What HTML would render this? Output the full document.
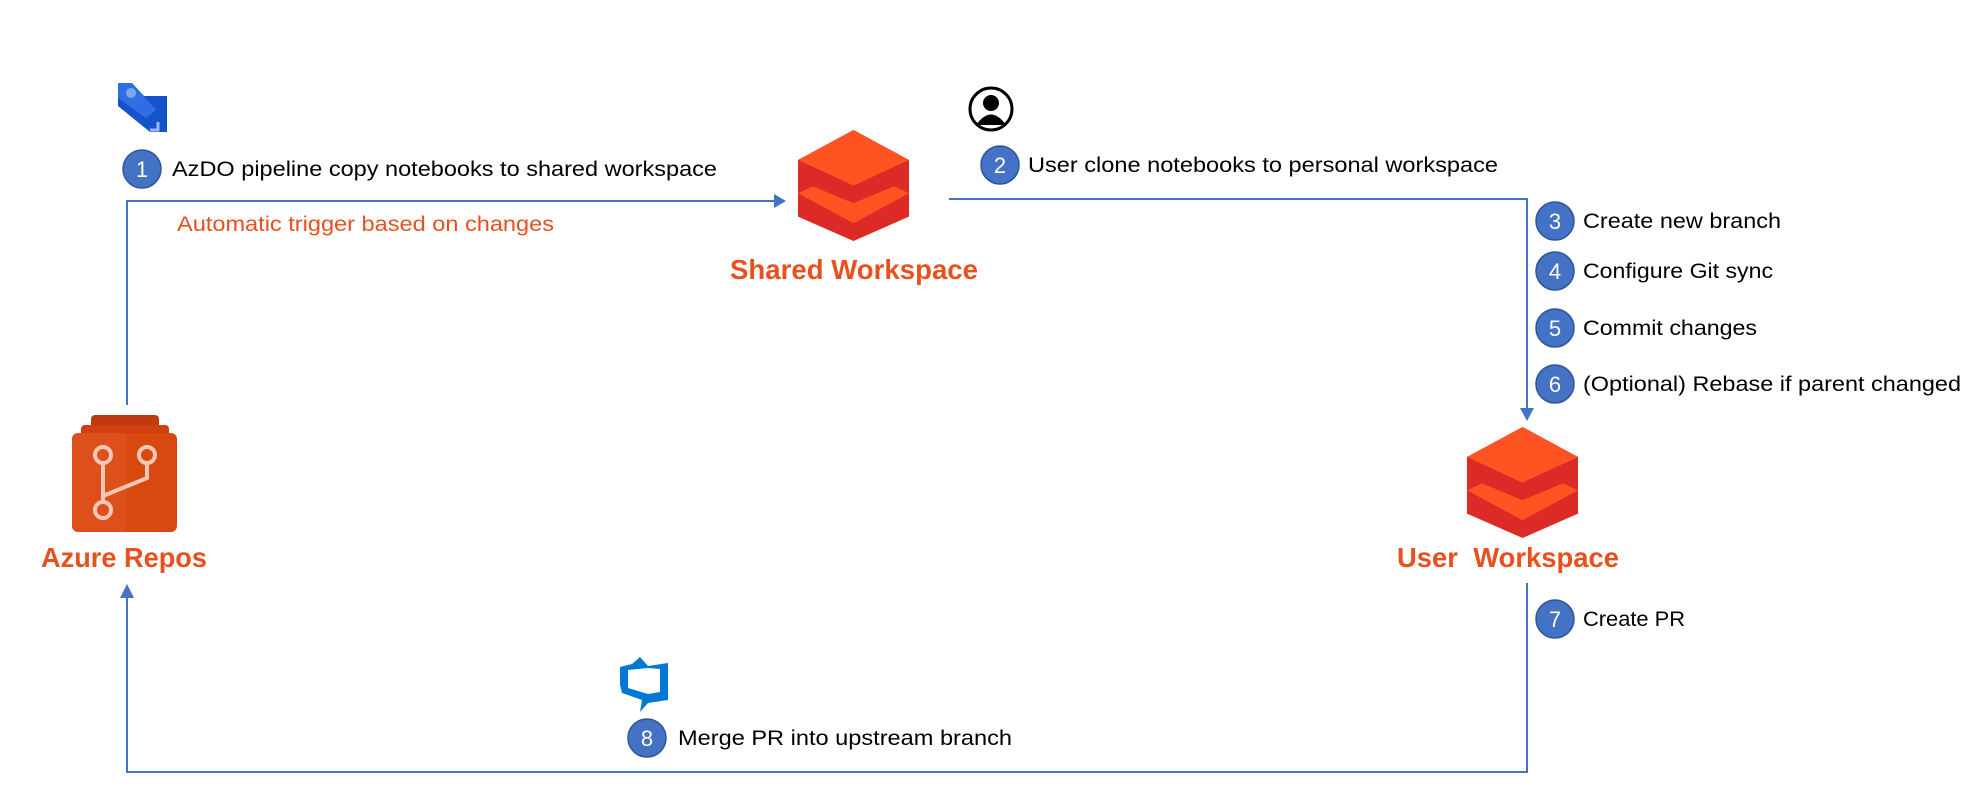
<!DOCTYPE html>
<html><head><meta charset="utf-8"><style>
html,body{margin:0;padding:0;background:#fff;}
svg{display:block;}
text{font-family:"Liberation Sans",sans-serif;}
</style></head><body>
<svg width="1971" height="804" viewBox="0 0 1971 804" xmlns="http://www.w3.org/2000/svg">
<defs>
<g id="db">
<polygon points="50,0 100,27 100,78 50,100 0,78 0,27" fill="#DC2A26"/>
<polygon points="50,34 100,57 50,84 0,57" fill="#FF5422"/>
<polygon points="0,27 50,50 100,27 100,45 50,66 0,45" fill="#DC2A26"/>
<polygon points="50,0 100,27 50,50 0,27" fill="#FF5422"/>
</g>
<g id="circ"><circle r="19" fill="#4472C4" stroke="#2F5597" stroke-width="1.5"/></g>
</defs>
<g stroke="#4472C4" stroke-width="2" fill="none">
<polyline points="127,405 127,201 776,201"/>
<polyline points="949,199 1527,199 1527,410"/>
<polyline points="1527,583 1527,772 127,772 127,597"/>
</g>
<g fill="#4472C4">
<polygon points="786,201 774,194 774,208"/>
<polygon points="1527,421 1520,408 1534,408"/>
<polygon points="127,584 120,598 134,598"/>
</g>
<g>
<polygon points="118,83 132,83 144,96 167,96 167,132 150,132 118,106" fill="#1453C9"/>
<polygon points="118,83 132,83 156,110 146,118 118,98" fill="#2F6FE6"/>
<circle cx="131" cy="93" r="5" fill="#7FA6F0"/>
<polyline points="158,122 158,130 150,130" stroke="#9DB9F2" stroke-width="3" fill="none"/>
</g>
<circle cx="991" cy="109" r="21" fill="#fff" stroke="#000" stroke-width="3"/>
<circle cx="991" cy="103" r="8" fill="#000"/>
<path d="M976 125 Q991 104 1006 125 Z" fill="#000"/>
<use href="#db" transform="translate(798,130) scale(1.11,1.11)"/>
<use href="#db" transform="translate(1467,427) scale(1.11,1.11)"/>
<g>
<rect x="91" y="415" width="68" height="20" rx="4" fill="#C03A10"/>
<rect x="81" y="425" width="88" height="20" rx="4" fill="#CF3F10"/>
<rect x="72" y="433" width="105" height="99" rx="6" fill="#D9480F"/>
<rect x="72" y="433" width="55" height="99" rx="6" fill="#E05523" opacity="0.6"/>
<g stroke="#F8C8B4" stroke-width="4" fill="none">
<circle cx="103" cy="455" r="8"/>
<circle cx="147" cy="455" r="8"/>
<circle cx="103" cy="510" r="8"/>
<line x1="103" y1="463" x2="103" y2="502"/>
<polyline points="147,463 147,478 103,496"/>
</g>
</g>
<path d="M640,657 L648,666 L668,663 L668,700 L648,703 L640,712 L642,700 L622,693 L620,685 L620,667 L632,664 Z M628,670 L628,688 L648,694 L660,692 L660,669 L648,668 Z" fill="#0078D4" fill-rule="evenodd"/>
<g font-size="22" fill="#fff" text-anchor="middle">
<use href="#circ" x="142" y="169"/><text x="142" y="177">1</text>
<use href="#circ" x="1000" y="165"/><text x="1000" y="173">2</text>
<use href="#circ" x="1555" y="221"/><text x="1555" y="229">3</text>
<use href="#circ" x="1555" y="271"/><text x="1555" y="279">4</text>
<use href="#circ" x="1555" y="328"/><text x="1555" y="336">5</text>
<use href="#circ" x="1555" y="384"/><text x="1555" y="392">6</text>
<use href="#circ" x="1555" y="619"/><text x="1555" y="627">7</text>
<use href="#circ" x="647" y="738"/><text x="647" y="746">8</text>
</g>
<g font-size="21" fill="#000">
<text x="172" y="176" textLength="545" lengthAdjust="spacingAndGlyphs">AzDO pipeline copy notebooks to shared workspace</text>
<text x="1028" y="172" textLength="470" lengthAdjust="spacingAndGlyphs">User clone notebooks to personal workspace</text>
<text x="1583" y="228" textLength="198" lengthAdjust="spacingAndGlyphs">Create new branch</text>
<text x="1583" y="278" textLength="190" lengthAdjust="spacingAndGlyphs">Configure Git sync</text>
<text x="1583" y="335" textLength="174" lengthAdjust="spacingAndGlyphs">Commit changes</text>
<text x="1583" y="391" textLength="378" lengthAdjust="spacingAndGlyphs">(Optional) Rebase if parent changed</text>
<text x="1583" y="626" textLength="102" lengthAdjust="spacingAndGlyphs">Create PR</text>
<text x="678" y="745" textLength="334" lengthAdjust="spacingAndGlyphs">Merge PR into upstream branch</text>
</g>
<text x="177" y="231" font-size="21" fill="#E8501E" textLength="377" lengthAdjust="spacingAndGlyphs">Automatic trigger based on changes</text>
<g font-size="28" font-weight="bold" fill="#E8501E">
<text x="730" y="279" textLength="248" lengthAdjust="spacingAndGlyphs">Shared Workspace</text>
<text x="1397" y="567" textLength="222" lengthAdjust="spacingAndGlyphs" xml:space="preserve">User  Workspace</text>
<text x="41" y="567" textLength="166" lengthAdjust="spacingAndGlyphs">Azure Repos</text>
</g>
</svg>
</body></html>
